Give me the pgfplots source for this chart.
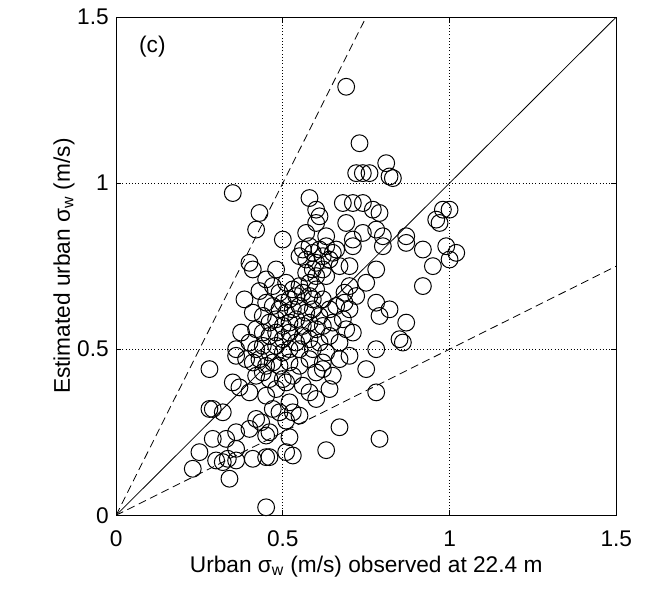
\documentclass[border=0pt]{standalone}
\usepackage{pgfplots}
\pgfplotsset{compat=1.18}
\usepackage{fontspec}
\setmainfont{Liberation Sans}
\pgfplotstableread{
x y
0.69 1.29
0.73 1.12
0.72 1.03
0.74 1.03
0.76 1.03
0.81 1.06
0.82 1.02
0.83 1.015
0.35 0.97
0.43 0.91
0.42 0.86
0.58 0.955
0.60 0.92
0.61 0.90
0.68 0.94
0.71 0.94
0.74 0.94
0.77 0.92
0.79 0.91
0.98 0.92
1.00 0.92
0.97 0.88
0.96 0.89
0.69 0.88
0.60 0.88
0.57 0.85
0.74 0.85
0.78 0.86
0.63 0.84
0.50 0.83
0.71 0.83
0.71 0.81
0.80 0.84
0.80 0.81
0.87 0.84
0.87 0.82
0.92 0.80
0.99 0.81
1.02 0.79
1.00 0.77
0.95 0.75
0.92 0.69
0.55 0.78
0.56 0.80
0.57 0.77
0.58 0.81
0.59 0.79
0.60 0.76
0.61 0.80
0.62 0.78
0.63 0.81
0.64 0.77
0.65 0.79
0.57 0.73
0.59 0.74
0.60 0.72
0.62 0.74
0.63 0.72
0.66 0.80
0.58 0.70
0.40 0.76
0.41 0.74
0.48 0.74
0.45 0.71
0.43 0.675
0.385 0.65
0.41 0.61
0.45 0.64
0.375 0.55
0.67 0.75
0.70 0.75
0.75 0.70
0.78 0.74
0.685 0.67
0.685 0.64
0.70 0.69
0.72 0.66
0.70 0.62
0.62 0.65
0.59 0.65
0.68 0.59
0.69 0.56
0.78 0.64
0.82 0.62
0.79 0.60
0.87 0.58
0.85 0.53
0.86 0.52
0.78 0.50
0.75 0.44
0.78 0.37
0.79 0.23
0.47 0.69
0.49 0.67
0.51 0.70
0.53 0.68
0.55 0.69
0.52 0.65
0.54 0.66
0.56 0.67
0.58 0.66
0.60 0.68
0.47 0.63
0.49 0.62
0.50 0.64
0.51 0.61
0.53 0.62
0.55 0.63
0.57 0.61
0.59 0.62
0.61 0.60
0.64 0.62
0.66 0.63
0.44 0.60
0.46 0.58
0.48 0.59
0.50 0.57
0.52 0.58
0.54 0.59
0.56 0.57
0.58 0.58
0.60 0.56
0.62 0.57
0.65 0.58
0.42 0.56
0.44 0.55
0.46 0.54
0.48 0.55
0.50 0.53
0.52 0.55
0.54 0.52
0.56 0.54
0.58 0.53
0.61 0.52
0.64 0.54
0.67 0.52
0.71 0.55
0.40 0.52
0.42 0.50
0.44 0.51
0.46 0.49
0.48 0.51
0.50 0.49
0.52 0.50
0.55 0.50
0.59 0.50
0.63 0.49
0.36 0.50
0.36 0.48
0.39 0.47
0.41 0.46
0.43 0.47
0.45 0.45
0.47 0.46
0.49 0.45
0.52 0.46
0.55 0.45
0.58 0.47
0.62 0.46
0.67 0.47
0.70 0.48
0.28 0.44
0.44 0.43
0.42 0.42
0.46 0.41
0.50 0.41
0.51 0.40
0.53 0.42
0.60 0.43
0.62 0.44
0.65 0.42
0.35 0.40
0.37 0.385
0.40 0.37
0.45 0.36
0.48 0.38
0.56 0.39
0.58 0.37
0.64 0.38
0.60 0.35
0.52 0.34
0.55 0.30
0.53 0.31
0.51 0.285
0.47 0.32
0.49 0.31
0.28 0.32
0.29 0.32
0.32 0.31
0.42 0.29
0.435 0.28
0.67 0.265
0.29 0.23
0.33 0.23
0.36 0.25
0.36 0.20
0.40 0.26
0.45 0.24
0.46 0.25
0.52 0.235
0.25 0.19
0.23 0.14
0.30 0.165
0.32 0.16
0.34 0.11
0.335 0.17
0.36 0.165
0.41 0.17
0.45 0.175
0.46 0.175
0.51 0.19
0.53 0.18
0.63 0.196
0.45 0.024
}\pts
\begin{document}
\begin{tikzpicture}
\begin{axis}[
  scale only axis,
  width=375pt, height=373.5pt,
  xmin=0, xmax=1.5, ymin=0, ymax=1.5,
  xtick={0,0.5,1,1.5}, ytick={0,0.5,1,1.5},
  xticklabels={0,0.5,1,1.5}, yticklabels={0,0.5,1,1.5},
  tick align=inside, major tick length=4pt,
  grid=major, grid style={black, dotted, line width=0.7pt},
  axis line style={line width=0.7pt}, tick style={black, line width=0.6pt},
  ticklabel style={font=\fontsize{17}{20}\selectfont},
  xticklabel style={yshift=-8pt},
  yticklabel style={xshift=-2pt},
  label style={font=\fontsize{17}{20}\selectfont},
  xlabel={Urban σ\textsubscript{w} (m/s) observed at 22.4 m},
  ylabel={Estimated urban σ\textsubscript{w} (m/s)},
  xlabel shift=0pt,
  ylabel shift=-5pt,
  clip=true,
]
\coordinate (sw) at (rel axis cs:0,0);
\coordinate (ne) at (rel axis cs:1,1);
\addplot[black, line width=0.6pt] coordinates {(0,0) (1.5,1.5)};
\addplot[black, line width=0.6pt, dash pattern=on 6pt off 3.5pt] coordinates {(0,0) (0.75,1.5)};
\addplot[black, line width=0.6pt, dash pattern=on 6pt off 3.5pt] coordinates {(0,0) (1.5,0.75)};
\addplot[only marks, mark=o, mark size=6.3pt, mark options={black, line width=0.75pt}] table[x=x, y=y] {\pts};
\node[anchor=west, font=\fontsize{17}{20}\selectfont] at (axis cs:0.055,1.41) {(c)};
\end{axis}
\pgfresetboundingbox
\path[use as bounding box] ([shift={(-87pt,-59pt)}]sw) rectangle ([shift={(23pt,12.75pt)}]ne);
\end{tikzpicture}
\end{document}
